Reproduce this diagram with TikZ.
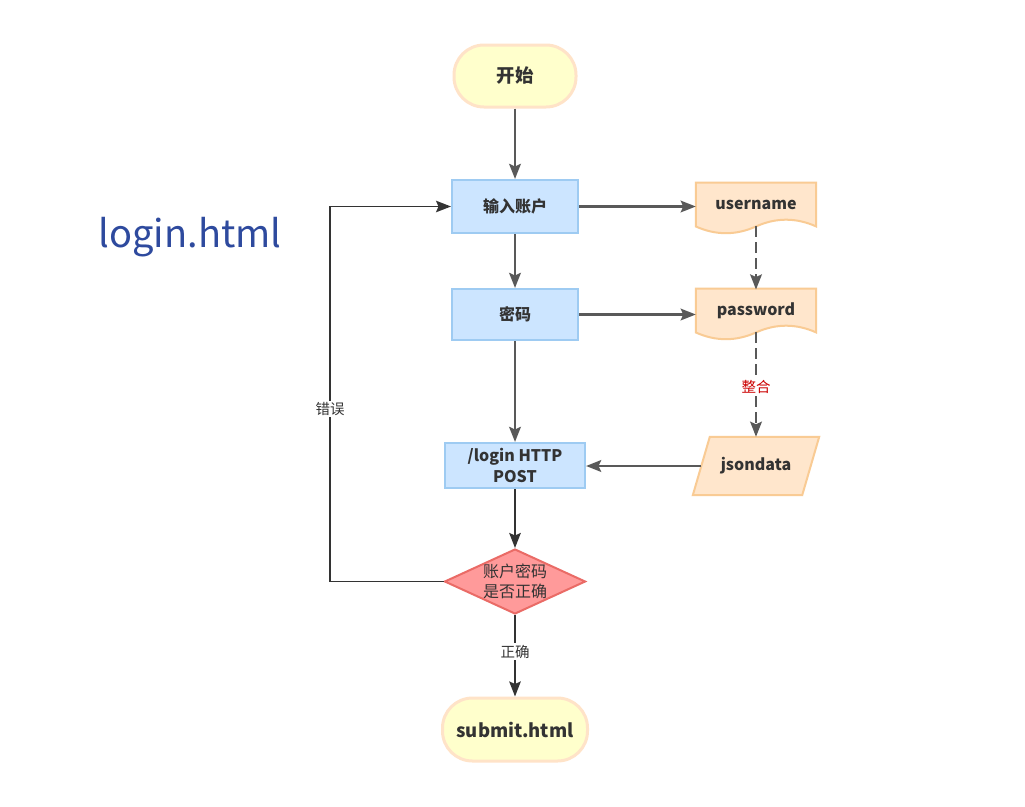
\documentclass[tikz,border=0pt]{standalone}
\usepackage{fontspec}
\setmainfont{Noto Sans CJK SC}
\usetikzlibrary{arrows.meta,calc,shapes.geometric,backgrounds}
\definecolor{termfill}{HTML}{FFFFCC}
\definecolor{termline}{HTML}{FFE3C8}
\definecolor{bluefill}{HTML}{CCE5FF}
\definecolor{blueline}{HTML}{9ECBF2}
\definecolor{orfill}{HTML}{FFE6CC}
\definecolor{orline}{HTML}{F9CB94}
\definecolor{redfill}{HTML}{FF9A9A}
\definecolor{redline}{HTML}{EA6B66}
\definecolor{arrowgray}{HTML}{595959}
\definecolor{txt}{HTML}{333333}
\definecolor{titleblue}{HTML}{2E4A9E}
\definecolor{labelred}{HTML}{CC0000}
\tikzset{
  term/.style={draw=termline, fill=termfill, line width=3pt, rounded corners=30pt,
    text=txt, font=\fontsize{18.5}{22}\selectfont\bfseries, inner sep=0pt},
  procbox/.style={draw=blueline, fill=bluefill, line width=2pt, text=txt,
    font=\fontsize{16}{21}\selectfont\bfseries, inner sep=0pt, align=center},
  docbox/.style={draw=none, text=txt, font=\fontsize{16}{21}\selectfont\bfseries,
    inner sep=0pt, minimum width=120pt, minimum height=42.5pt},
  docshape/.style={draw=orline, fill=orfill, line width=2pt},
  decshape/.style={diamond, draw=redline, fill=redfill, line width=2pt,
    minimum width=141pt, minimum height=65pt, inner sep=0pt},
  dectext/.style={text=txt, font=\fontsize{16}{19.5}\selectfont, align=center, inner sep=0pt},
  arr/.style={draw=arrowgray, line width=2.9pt, -{Stealth[length=15pt,width=11.5pt,inset=2.5pt]}},
  darr/.style={draw=txt, line width=2pt, -{Stealth[length=15pt,width=11.5pt,inset=2.5pt]}},
  dasharr/.style={arr, dash pattern=on 11pt off 5pt},
  lbl/.style={fill=white, text=txt, font=\fontsize{14.5}{16}\selectfont, inner sep=1.5pt},
  redlbl/.style={fill=white, text=labelred, font=\fontsize{14.5}{16}\selectfont, inner sep=1.5pt},
}
\begin{document}
\begin{tikzpicture}[x=1pt,y=-1pt]
\useasboundingbox (0,0) rectangle (1025,806);

% nodes
\node[term, minimum width=122pt, minimum height=62pt] (start) at (515,76) {开始};
\node[procbox, minimum width=126pt, minimum height=53pt] (in1) at (515,206.5) {输入账户};
\node[procbox, minimum width=126pt, minimum height=51pt] (pwd) at (515,314.5) {密码};
\node[procbox, minimum width=140pt, minimum height=45pt] (login) at (515,465.5) {/login HTTP\\POST};
\node[decshape] (dec) at (515,581.5) {};
\node[dectext] (dectxt) at (dec) {账户密码\\是否正确};
\node[term, minimum width=145pt, minimum height=63pt] (submit) at (515,729.5) {submit.html};

\node[docbox] (user) at (756,205) {username};
\node[docbox] (pass) at (756,311) {password};
\node[draw=none, text=txt, font=\fontsize{16}{21}\selectfont\bfseries, inner sep=0pt,
  minimum width=109pt, minimum height=58pt] (json) at (756,466) {jsondata};

\node[text=titleblue, font=\fontsize{38}{46}\selectfont, inner sep=0pt] (title) at (190,237) {login.html};

\coordinate (errx) at (330,0);

\begin{pgfonlayer}{background}
  \fill[white] (0,0) rectangle (1025,806);
  \foreach \d in {user,pass}{
    \draw[docshape] ($(\d.north west)+(0,-1)$) -- ($(\d.north east)+(0,-1)$) -- (\d.south east)
      .. controls ($(\d.south east)+(-20,-9)$) and ($(\d.south)+(20,-9)$) .. (\d.south)
      .. controls ($(\d.south)+(-20,9)$) and ($(\d.south west)+(20,9)$) .. (\d.south west)
      -- cycle;
  }
  \draw[docshape] ($(json.north west)+(8.5,0)$) -- ($(json.north east)+(8.5,0)$)
    -- ($(json.south east)+(-8.5,0)$) -- ($(json.south west)+(-8.5,0)$) -- cycle;
\end{pgfonlayer}

% connectors
\draw[arr] (start) -- (in1);
\draw[arr] (in1.east) -- (in1.east -| user.west);
\draw[arr] (in1) -- (pwd);
\draw[arr] (pwd.east) -- (pwd.east -| pass.west);
\draw[dasharr] (user.south) -- (pass.north);
\draw[dasharr] (pass.south) -- node[redlbl, pos=0.52]{整合} (json.north);
\draw[arr] (pwd.south) -- (login.north);
\draw[arr] (json.west) -- (json.west -| login.east);
\draw[darr] (login.south) -- (dec.north);
\draw[darr] (dec.south) -- node[lbl, pos=0.45]{正确} (submit.north);
\draw[darr, line width=1.5pt] (dec.west) -- (dec.west -| errx) |- node[lbl, pos=0.23]{错误} (in1.west);
\end{tikzpicture}
\end{document}
